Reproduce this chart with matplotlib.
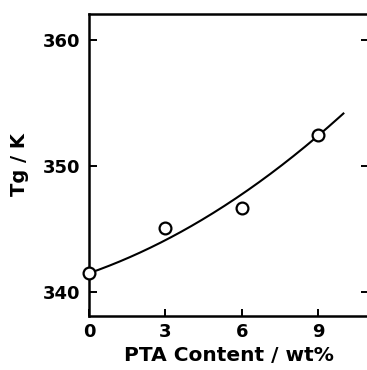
import numpy as np
import matplotlib
matplotlib.use("Agg")
import matplotlib.pyplot as plt

# measured Tg values
pta_content = [0, 3, 6, 9]
tg_values = [341.5, 345.1, 346.7, 352.5]

# points
curve_x = [0, 3, 6, 7, 9, 10]
curve_y = [341.4, 344.3, 347.7, 349.0, 352.5, 354.2]

plt.rcParams['font.family'] = ['DejaVu Sans']
plt.rcParams['font.weight'] = 'bold'

fig = plt.figure(figsize=(3.67, 3.70), dpi=100)
ax = fig.add_axes([0.2425, 0.147, 0.7625, 0.815])

coef = np.polyfit(curve_x, curve_y, 2)
xs = np.linspace(curve_x[0], curve_x[-1], 200)
ax.plot(xs, np.polyval(coef, xs), color='black', lw=1.5, zorder=2)
ax.plot(pta_content, tg_values, 'o', ms=8.5, mfc='white', mec='black', mew=1.6,
        zorder=3, clip_on=False)

ax.set_xlim(0, 11)
ax.set_ylim(338.1, 362.1)
ax.set_xticks([0, 3, 6, 9])
ax.set_yticks([340, 350, 360])

for s in ax.spines.values():
    s.set_linewidth(1.8)

ax.tick_params(axis='both', direction='in', width=1.4, labelsize=13)
ax.tick_params(axis='y', length=6, pad=6, right=True)
ax.tick_params(axis='x', length=5, pad=5)

ax.set_xlabel('PTA Content / wt%', fontsize=14.5, fontweight='bold', labelpad=4)
ax.set_ylabel('Tg / K', fontsize=14, fontweight='bold', labelpad=10)

fig.savefig('out.png', dpi=100)
